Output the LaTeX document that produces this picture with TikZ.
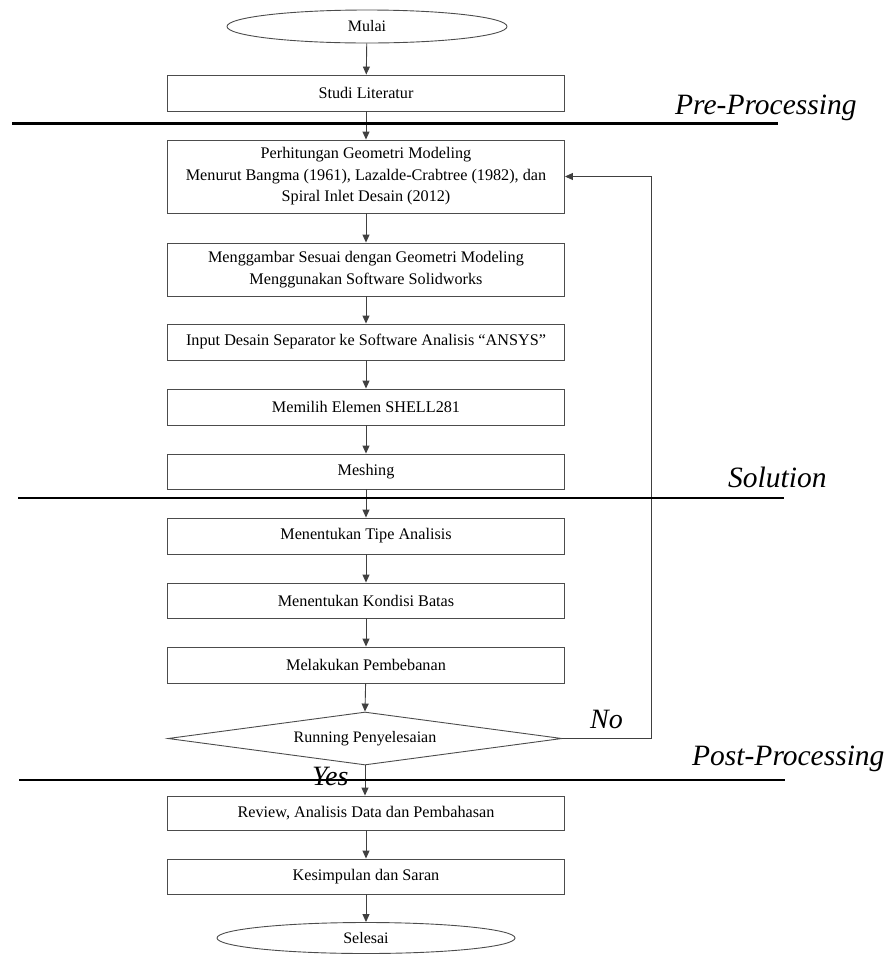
\documentclass[tikz,border=0pt]{standalone}
\usepackage{fontspec}
\setmainfont{Liberation Serif}
\usetikzlibrary{shapes.geometric,arrows.meta}
\tikzset{
  procbox/.style={draw=black!70, line width=0.9pt, rectangle, minimum width=397pt, inner sep=0pt, align=center, font=\fontsize{16.2}{21.5}\selectfont},
  termnode/.style={draw=black!70, line width=0.9pt, ellipse, inner sep=0pt, font=\fontsize{16}{18}\selectfont},
  decnode/.style={draw=black!70, line width=0.9pt, diamond, aspect=7.4, inner sep=0pt, minimum width=394pt, minimum height=53pt, font=\fontsize{16}{18}\selectfont},
  flow/.style={draw=black!75, line width=0.9pt, -{Triangle[length=8pt,width=7pt]}},
  sepline/.style={draw=black, line width=2.4pt},
  phase/.style={font=\fontsize{29.5}{32}\selectfont\itshape, inner sep=0pt, anchor=base west},
  choice/.style={font=\fontsize{28}{30}\selectfont\itshape, inner sep=0pt, anchor=base west}
}
\begin{document}
\begin{tikzpicture}[x=1pt,y=-1pt]
\useasboundingbox (0,0) rectangle (896,954);
\node[termnode, minimum width=280pt, minimum height=33pt] (mulai) at (367,26.5) {Mulai};
\node[procbox, minimum height=36pt] (studi) at (366,93) {Studi Literatur};
\node[procbox, minimum height=73pt] (perh) at (366,176.5) {Perhitungan Geometri Modeling\\Menurut Bangma (1961), Lazalde-Crabtree (1982), dan\\Spiral Inlet Desain (2012)};
\node[procbox, minimum height=53pt] (gambar) at (366,269.5) {Menggambar Sesuai dengan Geometri Modeling\\Menggunakan Software Solidworks};
\node[procbox, minimum height=36pt] (input) at (366,342) {Input Desain Separator ke Software Analisis “ANSYS”};
\node[procbox, minimum height=36pt] (pilih) at (366,407) {Memilih Elemen SHELL281};
\node[procbox, minimum height=35pt] (mesh) at (366,471.5) {Meshing};
\node[procbox, minimum height=36pt] (tipe) at (366,536) {Menentukan Tipe Analisis};
\node[procbox, minimum height=35pt] (batas) at (366,600.5) {Menentukan Kondisi Batas};
\node[procbox, minimum height=36pt] (beban) at (366,665) {Melakukan Pembebanan};
\node[decnode] (run) at (365,738.5) {Running Penyelesaian};
\node[procbox, minimum height=34pt] (review) at (366,813) {Review, Analisis Data dan Pembahasan};
\node[procbox, minimum height=35pt] (simpul) at (366,876.5) {Kesimpulan dan Saran};
\node[termnode, minimum width=298pt, minimum height=31pt] (selesai) at (366,938) {Selesai};

\draw[flow] (mulai) -- (studi);
\draw[flow] (studi) -- (perh);
\draw[flow] (perh) -- (gambar);
\draw[flow] (gambar) -- (input);
\draw[flow] (input) -- (pilih);
\draw[flow] (pilih) -- (mesh);
\draw[flow] (mesh) -- (tipe);
\draw[flow] (tipe) -- (batas);
\draw[flow] (batas) -- (beban);
\draw[flow] (beban) -- (run.north);
\draw[flow] (run.south) -- (review.north -| run.south);
\draw[flow] (review) -- (simpul);
\draw[flow] (simpul) -- (selesai);
\coordinate (fb) at (651,738.5);
\draw[flow] (run.east) -- (fb) |- (perh.east);

\coordinate (preL) at (12,123.5);
\coordinate (preR) at (778,123.5);
\coordinate (solL) at (18,498);
\coordinate (solR) at (784,498);
\coordinate (postL) at (19,780);
\coordinate (postR) at (785,780);
\draw[sepline] (preL) -- (preR);
\draw[sepline] (solL) -- (solR);
\draw[sepline] (postL) -- (postR);

\node[phase] (pre) at (675,114) {Pre-Processing};
\node[phase] (sol) at (728,487) {Solution};
\node[phase] (post) at (692,765) {Post-Processing};
\node[choice] (no) at (590,728) {No};
\node[choice] (yes) at (312,785) {Yes};
\end{tikzpicture}
\end{document}
